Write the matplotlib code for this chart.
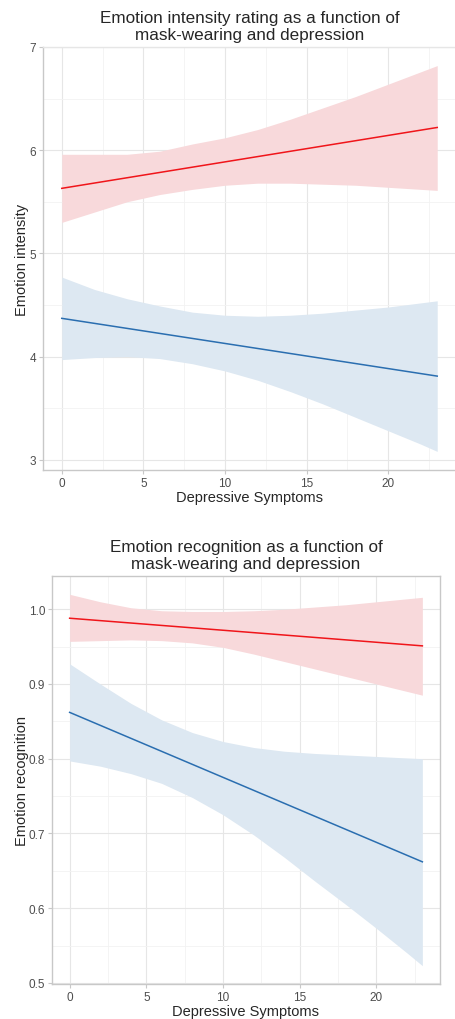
import matplotlib
matplotlib.use("Agg")
import matplotlib.pyplot as plt
from matplotlib.ticker import MultipleLocator, FormatStrFormatter

plt.rcParams['font.family'] = ['Liberation Sans', 'DejaVu Sans']

# Depressive symptoms (x positions where the bands were read)
x_band = [0, 2, 4, 6, 8, 10, 12, 14, 16, 18, 20, 22, 23]
x_line = [0, 23]

# Panel 1: emotion intensity
int_red_line = [5.63, 6.22]
int_red_upper = [5.96, 5.96, 5.96, 5.99, 6.06, 6.12, 6.20, 6.30, 6.41, 6.52, 6.64, 6.76, 6.82]
int_red_lower = [5.30, 5.40, 5.50, 5.57, 5.62, 5.66, 5.68, 5.68, 5.67, 5.66, 5.64, 5.62, 5.61]
int_blue_line = [4.37, 3.81]
int_blue_upper = [4.77, 4.65, 4.56, 4.49, 4.43, 4.40, 4.39, 4.40, 4.42, 4.45, 4.48, 4.52, 4.54]
int_blue_lower = [3.97, 3.99, 4.00, 3.98, 3.93, 3.86, 3.77, 3.66, 3.54, 3.41, 3.28, 3.15, 3.08]

# Panel 2: emotion recognition
rec_red_line = [0.988, 0.951]
rec_red_upper = [1.020, 1.010, 1.002, 0.998, 0.997, 0.997, 0.998, 1.000, 1.003, 1.006, 1.010, 1.014, 1.016]
rec_red_lower = [0.957, 0.958, 0.959, 0.958, 0.955, 0.949, 0.940, 0.930, 0.920, 0.910, 0.900, 0.890, 0.885]
rec_blue_line = [0.862, 0.662]
rec_blue_upper = [0.927, 0.900, 0.874, 0.852, 0.835, 0.823, 0.815, 0.810, 0.807, 0.805, 0.803, 0.801, 0.800]
rec_blue_lower = [0.797, 0.790, 0.780, 0.767, 0.748, 0.725, 0.698, 0.668, 0.636, 0.605, 0.573, 0.540, 0.523]

RED, RED_FILL = "#f0151a", "#f8d9db"
BLUE, BLUE_FILL = "#2a6eb0", "#dde8f2"
GRID, GRID_MINOR, BORDER = "#e6e6e6", "#f2f2f2", "#c8c8c8"

fig = plt.figure(figsize=(4.55, 10.2), dpi=100)
ax1 = fig.add_axes([43 / 455, 1 - 471 / 1020, 413 / 455, 423 / 1020])
ax2 = fig.add_axes([52 / 455, 1 - 985 / 1020, 388 / 455, 408 / 1020])


def style(ax, ylabel, title, ylim, ymajor, yminor, fmt, full_box):
    ax.set_xlim(-1.15, 24.15)
    ax.set_ylim(*ylim)
    ax.xaxis.set_major_locator(MultipleLocator(5))
    ax.xaxis.set_minor_locator(MultipleLocator(2.5))
    ax.yaxis.set_major_locator(MultipleLocator(ymajor))
    ax.yaxis.set_minor_locator(MultipleLocator(yminor))
    ax.yaxis.set_major_formatter(FormatStrFormatter(fmt))
    ax.grid(True, which="major", color=GRID, linewidth=0.8)
    ax.grid(True, which="minor", color=GRID_MINOR, linewidth=0.6)
    ax.set_axisbelow(True)
    ax.tick_params(which="major", length=3, color=BORDER, labelsize=8.5, labelcolor="#4d4d4d", pad=2)
    ax.tick_params(which="minor", length=0)
    for side, sp in ax.spines.items():
        sp.set_color(BORDER)
        sp.set_linewidth(1.0)
    if not full_box:
        ax.spines["right"].set_visible(False)
        ax.spines["top"].set_color(GRID)
    ax.set_xlabel("Depressive Symptoms", fontsize=10.5, color="#262626", labelpad=1)
    ax.set_ylabel(ylabel, fontsize=10.5, color="#262626", labelpad=0)
    ax.set_title(title, fontsize=12.3, color="#262626", pad=6, linespacing=1.12)


ax1.fill_between(x_band, int_red_lower, int_red_upper, color=RED_FILL, linewidth=0)
ax1.fill_between(x_band, int_blue_lower, int_blue_upper, color=BLUE_FILL, linewidth=0)
ax1.plot(x_line, int_red_line, color=RED, linewidth=1.1)
ax1.plot(x_line, int_blue_line, color=BLUE, linewidth=1.1)
style(ax1, "Emotion intensity",
      "Emotion intensity rating as a function of\nmask-wearing and depression",
      (2.9, 7.0), 1, 0.5, "%d", False)

ax2.fill_between(x_band, rec_red_lower, rec_red_upper, color=RED_FILL, linewidth=0)
ax2.fill_between(x_band, rec_blue_lower, rec_blue_upper, color=BLUE_FILL, linewidth=0)
ax2.plot(x_line, rec_red_line, color=RED, linewidth=1.1)
ax2.plot(x_line, rec_blue_line, color=BLUE, linewidth=1.1)
style(ax2, "Emotion recognition",
      "Emotion recognition as a function of\nmask-wearing and depression",
      (0.4985, 1.0445), 0.1, 0.05, "%.1f", True)

fig.savefig("out.png", dpi=100)
